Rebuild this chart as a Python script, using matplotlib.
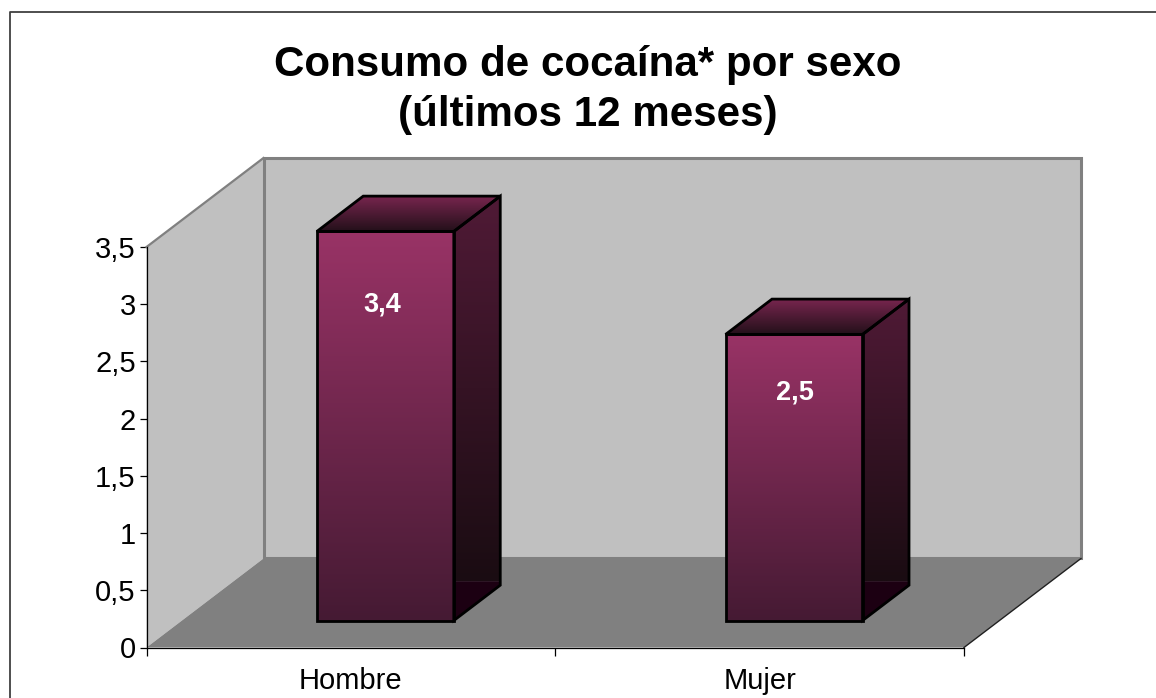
"""
Consumo de cocaina por sexo: 3D-look column chart drawn on a flat axes.
"""
import numpy as np
import matplotlib
matplotlib.use("Agg")
import matplotlib.pyplot as plt
from matplotlib.patches import Polygon

plt.rcParams["font.family"] = ["Liberation Sans", "DejaVu Sans"]

CATEGORIES = ["Hombre", "Mujer"]
VALUES = [3.4, 2.5]
VALUE_LABELS = ["3,4", "2,5"]
Y_TICKS = [0, 0.5, 1, 1.5, 2, 2.5, 3, 3.5]
Y_TICK_LABELS = ["0", "0,5", "1", "1,5", "2", "2,5", "3", "3,5"]
TITLE = "Consumo de cocaína* por sexo\n(últimos 12 meses)"

W, H = 1156, 698
WALL = "#C0C0C0"
FLOOR = "#808080"
EDGE = "#808080"

# shear of the fake depth axis, in data units for depth = 1
DEPTH_X = 117 / 408.75
DEPTH_Y = 89 / 114.4
BAR_WIDTH = 137 / 408.75
BAR_SHIFT = -0.0025
BAR_D0 = 0.303
BAR_D1 = 0.70
# where the value labels sit inside each bar
LABEL_FRAC = [0.813, 0.797]
LABEL_SHIFT = [-0.009, 0.0]


def proj(x, y, d):
    return (x + d * DEPTH_X, y + d * DEPTH_Y)


def gradient_poly(ax, pts, y_top, y_bot, c_top, c_bot, zorder):
    """Fill a polygon with a vertical gradient, outline drawn separately."""
    cmap = matplotlib.colors.LinearSegmentedColormap.from_list("g", [c_top, c_bot])
    xs = [p[0] for p in pts]
    grad = np.linspace(0, 1, 256).reshape(-1, 1)
    im = ax.imshow(grad, cmap=cmap, aspect="auto", zorder=zorder,
                   extent=(min(xs), max(xs), y_bot, y_top), vmin=0, vmax=1)
    patch = Polygon(pts, closed=True, transform=ax.transData, fc="none", ec="none")
    patch.set_clip_on(False)
    ax.add_patch(patch)
    im.set_clip_box(ax.figure.bbox)
    im.set_clip_path(patch)


def outline(ax, pts, zorder):
    ax.add_patch(Polygon(pts, closed=True, fc="none", ec="black", lw=2.0,
                         joinstyle="miter", zorder=zorder, clip_on=False))


def draw_bar(ax, i, value, label):
    x0 = i + 0.5 + BAR_SHIFT - BAR_WIDTH / 2
    x1 = i + 0.5 + BAR_SHIFT + BAR_WIDTH / 2
    fbl = proj(x0, 0, BAR_D0)
    fbr = proj(x1, 0, BAR_D0)
    ftr = proj(x1, value, BAR_D0)
    ftl = proj(x0, value, BAR_D0)
    bbr = proj(x1, 0, BAR_D1)
    btr = proj(x1, value, BAR_D1)
    btl = proj(x0, value, BAR_D1)

    # side face: gradient part, then the darker foot
    foot_y = bbr[1] + 0.035
    gradient_poly(ax, [fbr, bbr, btr, ftr], btr[1], foot_y, "#501A36", "#1A0C12", 3)
    ax.add_patch(Polygon([fbr, bbr, (bbr[0], foot_y), (fbr[0], foot_y)], closed=True,
                         fc="#1C0012", ec="none", zorder=3.5, clip_on=False))
    gradient_poly(ax, [ftl, ftr, btr, btl], btr[1], ftr[1], "#7A2650", "#24101A", 3)
    gradient_poly(ax, [fbl, fbr, ftr, ftl], ftr[1], fbr[1], "#993366", "#451A33", 3)

    outline(ax, [fbr, bbr, btr, ftr], 4)
    outline(ax, [ftl, ftr, btr, btl], 4)
    outline(ax, [fbl, fbr, ftr, ftl], 4)

    lx, ly = proj(i + 0.5 + LABEL_SHIFT[i], value * LABEL_FRAC[i], BAR_D0)
    ax.text(lx, ly, label, color="white", fontsize=19.5, fontweight="bold",
            ha="center", va="center", zorder=5)


def main():
    fig = plt.figure(figsize=(W / 100, H / 100), dpi=100, facecolor="white")

    # frame of the chart area: only the left and top lines are in the picture
    fig.add_artist(plt.Line2D([9.5 / W, 9.5 / W, 1], [0, 1 - 12 / H, 1 - 12 / H],
                              color="#404040", lw=1.3))

    left, right, y_zero, y_max = 146.5, 964.0, 647.5, 247.0
    ax = fig.add_axes([left / W, 1 - y_zero / H, (right - left) / W, (y_zero - y_max) / H])
    ax.set_facecolor("none")
    ax.set_xlim(0, len(CATEGORIES))
    ax.set_ylim(0, 3.5)

    top = Y_TICKS[-1]
    n = len(CATEGORIES)
    # walls and floor
    ax.add_patch(Polygon([proj(0, 0, 0), proj(0, 0, 1), proj(0, top, 1), proj(0, top, 0)],
                         closed=True, fc=WALL, ec="none", zorder=1, clip_on=False))
    ax.add_patch(Polygon([proj(0, 0, 1), proj(n, 0, 1), proj(n, top, 1), proj(0, top, 1)],
                         closed=True, fc=WALL, ec=EDGE, lw=2.2, zorder=1, clip_on=False))
    ax.add_patch(Polygon([proj(0, 0, 0), proj(n, 0, 0), proj(n, 0, 1), proj(0, 0, 1)],
                         closed=True, fc=FLOOR, ec="none", zorder=2, clip_on=False))
    ax.plot(*zip(proj(0, top, 0), proj(0, top, 1)), color=EDGE, lw=1.6, zorder=2, clip_on=False)
    ax.plot(*zip(proj(n, 0, 0), proj(n, 0, 1)), color="#202020", lw=1.0, zorder=2, clip_on=False)

    for i, (value, label) in enumerate(zip(VALUES, VALUE_LABELS)):
        draw_bar(ax, i, value, label)

    ax.set_xlim(0, n)
    ax.set_ylim(0, top)

    for side in ("top", "right"):
        ax.spines[side].set_visible(False)
    for side in ("left", "bottom"):
        ax.spines[side].set_linewidth(0.9)
        ax.spines[side].set_zorder(6)
    ax.set_yticks(Y_TICKS, Y_TICK_LABELS, fontsize=21)
    ax.tick_params(axis="y", length=4.8, width=0.9, pad=3)
    ax.set_xticks(range(n + 1), [""] * (n + 1))
    ax.tick_params(axis="x", which="major", length=5.8, width=0.9)
    ax.set_xticks([i + 0.5 for i in range(n)], CATEGORIES, minor=True, fontsize=21)
    ax.tick_params(axis="x", which="minor", length=0, pad=14)

    fig.text(588 / W, 1 - 90 / H, TITLE, fontsize=30.3, fontweight="bold",
             ha="center", va="center", linespacing=1.3)

    fig.savefig("out.png", dpi=100)
    plt.close(fig)


if __name__ == "__main__":
    main()
